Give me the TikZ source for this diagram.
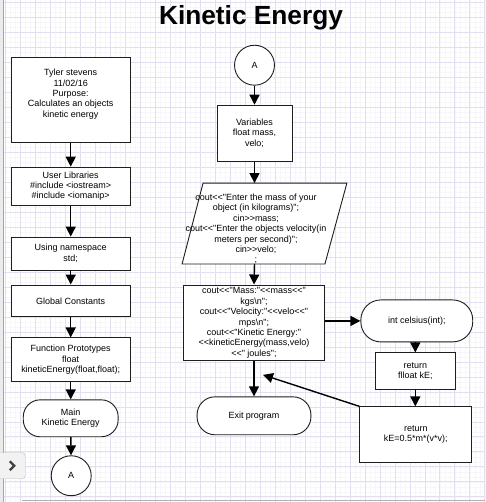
\documentclass[tikz,border=0pt]{standalone}
\usepackage{fontspec}
\setmainfont{Liberation Sans}[Ligatures=TeXOff]
\usetikzlibrary{arrows.meta}
\definecolor{gridmaj}{RGB}{224,224,240}
\definecolor{gridmin}{RGB}{246,246,251}
\definecolor{edge}{RGB}{30,30,30}
\begin{document}
\begin{tikzpicture}[x=1pt,y=-1pt,
  every node/.style={font=\fontsize{9}{10.4}\selectfont, align=center, inner sep=0pt},
  box/.style={draw=edge, line width=0.9pt, fill=white},
  term/.style={box, rounded corners=17pt},
  circ/.style={box, circle, minimum size=40pt},
  arr/.style={-{Triangle[width=10pt,length=10pt]}, line width=1.4pt, black},
  plain/.style={draw=edge, line width=1.2pt}]
% background and grid
\fill[white] (0,0) rectangle (485,502);
\foreach \x in {0,5,...,485} \draw[gridmin, line width=0.4pt] (\x,0) -- (\x,502);
\foreach \y in {2,7,...,502} \draw[gridmin, line width=0.4pt] (0,\y) -- (485,\y);
\foreach \x in {5,20,...,485} \draw[gridmaj, line width=0.6pt] (\x,0) -- (\x,502);
\foreach \y in {2,17,...,502} \draw[gridmaj, line width=0.6pt] (0,\y) -- (485,\y);
\useasboundingbox (0,0) rectangle (485,502);
% left frame, bottom line and tab
\fill[black!8] (0,0) rectangle (3,502);
\draw[black!35, line width=1.2pt] (3.5,0) -- (3.5,502);
\draw[black!30, line width=1pt] (22,500.5) -- (485,500.5);
\draw[black!25, fill=black!5, rounded corners=3pt] (-4,453) rectangle (25,479);
\draw[black!75, line width=2.4pt] (9.5,461.5) -- (14,466) -- (9.5,470.5);
% title
\node[font=\fontsize{26.3}{30}\selectfont\bfseries] (title) at (251,17.5) {Kinetic Energy};
% left column
\node[box, minimum width=119pt, minimum height=85pt] (b1) at (70.5,99.5) {};
\node (b1t) at (70.5,94) {Tyler stevens\\11/02/16\\Purpose:\\Calculates an objects\\kinetic energy};
\node[box, minimum width=119pt, minimum height=38pt] (b2) at (70.5,186) {User Libraries\\\#include <iostream>\\\#include <iomanip>};
\node[box, minimum width=119pt, minimum height=33pt] (b3) at (70.5,253.5) {Using namespace\\std;};
\node[box, minimum width=119pt, minimum height=32pt] (b4) at (70.5,301) {Global Constants};
\node[box, minimum width=119pt, minimum height=44pt] (b5) at (70.5,360) {Function Prototypes\\float\\kineticEnergy(float,float);};
\node[term, minimum width=95pt, minimum height=37pt] (mainT) at (70.5,418.5) {Main\\Kinetic Energy};
\node[circ] (a1) at (71,476) {A};
\draw[arr] (b1) -- (b2);
\draw[arr] (b2) -- (b3);
\draw[arr] (b3) -- (b4);
\draw[arr] (b4) -- (b5);
\draw[arr] (b5) -- (mainT);
\draw[arr] (mainT) -- (a1);
% middle column
\node[circ] (a2) at (254.5,65) {A};
\node[box, minimum width=75pt, minimum height=56pt] (var) at (254.5,133) {Variables\\float mass,\\velo;};
\draw[box] (203,183) -- (347,183) -- (325,264) -- (182,264) -- cycle;
\coordinate (partop) at (254.5,183);
\coordinate (parbot) at (254.5,264);
\node (par) at (256,229) {cout<<"Enter the mass of your\\object (in kilograms)";\\cin>>mass;\\cout<<"Enter the objects velocity(in\\meters per second)";\\cin>>velo;\\;};
\node[box, minimum width=141pt, minimum height=76pt] (out) at (254,323) {cout<<"Mass:"<<mass<<"\\kgs\textbackslash n";\\cout<<"Velocity:"<<velo<<"\\mps\textbackslash n";\\cout<<"Kinetic Energy:"\\<<kineticEnergy(mass,velo)\\<<" joules";};
\node[term, minimum width=114pt, minimum height=38pt, rounded corners=18pt] (exitT) at (254,416) {Exit program};
\draw[arr] (a2) -- (var);
\draw[arr] (var) -- (partop);
\draw[arr] (parbot) -- (out.north);
\draw[arr] (out) -- (exitT);
% right column
\node[term, minimum width=112pt, minimum height=42pt, rounded corners=20pt] (cel) at (417,321) {int celsius(int);};
\node[box, minimum width=80pt, minimum height=37pt] (r1) at (415.5,371.5) {return\\flloat kE;};
\node[box, minimum width=112pt, minimum height=56pt] (r2) at (416,435) {return\\kE=0.5*m*(v*v);};
\coordinate (back) at (263,375);
\draw[arr] (out.east |- cel.west) -- (cel.west);
\draw[arr] (cel.south -| r1.north) -- (r1.north);
\draw[arr] (r1.south) -- (r1.south |- r2.north);
\draw[arr] (r2.north west) -- (back);
\end{tikzpicture}
\end{document}
